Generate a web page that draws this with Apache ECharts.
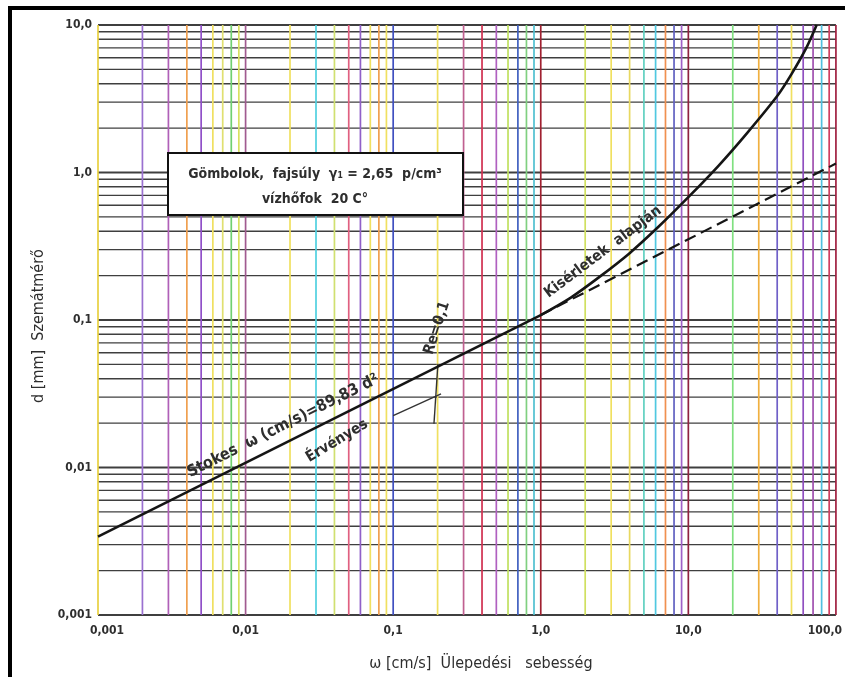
<!DOCTYPE html>
<html>
<head>
<meta charset="utf-8">
<script src="https://cdn.jsdelivr.net/npm/echarts@6/dist/echarts.min.js"></script>
<style>
  html, body { margin: 0; padding: 0; background: #fff; }
  #main { width: 845px; height: 677px; }
</style>
</head>
<body>
<div id="main"></div>
<script>
// tick labels (Hungarian decimal comma)
const xTickLabels = ['0,001', '0,01', '0,1', '1,0', '10,0', '100,0']
const yTickLabels = ['0,001', '0,01', '0,1', '1,0', '10,0']

// log paper grid: 1..9 in every decade
const xDecades = [0.001, 0.01, 0.1, 1, 10]
const yDecades = [0.001, 0.01, 0.1, 1]
const steps = [1, 2, 3, 4, 5, 6, 7, 8, 9]
// colours of the vertical rulings, as they came out of the scan
const vLineColors = [
  '#e8d040', '#9a70d0', '#b060b8', '#f0a050', '#9050c8', '#f0e060', '#e0e070', '#70d070', '#d8e060',
  '#a05a90', '#f0e060', '#50d0e0', '#d0e070', '#e06080', '#9060c8', '#f0e060', '#f0a050', '#f0e060',
  '#4050c0', '#f0e060', '#c06090', '#d03050', '#b060c0', '#c0e060', '#4060c0', '#80d080', '#50c0d0',
  '#a02030', '#d0e060', '#f0e060', '#e8d860', '#60d0c0', '#50c8e0', '#f09050', '#6060c0', '#a060c8',
  '#902040', '#80e080', '#f0b040', '#7060c8', '#f0e060', '#9050c0', '#a050b0', '#50c0e0', '#d04060',
  '#a02040'
]

// Stokes line, omega [cm/s] vs d [mm]
const stokesW = [0.001, 1.0]
const stokesD = [0.0034, 0.108]
// measured curve ("Kisérletek alapján")
const expW = [1.0, 1.6, 2.5, 4.0, 6.3, 10, 16, 25, 40, 50, 63, 74]
const expD = [0.108, 0.142, 0.196, 0.284, 0.43, 0.68, 1.11, 1.85, 3.3, 4.65, 7.0, 10.0]
// Stokes extrapolated (dashed)
const dashW = [1.0, 100]
const dashD = [0.108, 1.15]

const vGrid = []
xDecades.forEach(d => steps.forEach(s => vGrid.push(+(d * s).toPrecision(3))))
vGrid.push(100)
const hGrid = []
yDecades.forEach(d => steps.forEach(s => hGrid.push(+(d * s).toPrecision(3))))
hGrid.push(10)
const yMajor = [0.001, 0.01, 0.1, 1, 10]

const font = "'DejaVu Sans Condensed', 'DejaVu Sans', sans-serif"
const ink = '#2e2e2e'

let myChart = echarts.init(document.getElementById('main'))

let option = {
  backgroundColor: '#fff',
  animation: false,
  grid: { left: 98, right: 8, top: 25, bottom: 59 },
  xAxis: {
    type: 'log',
    logBase: 10,
    min: 0.001,
    max: 100,
    axisLine: { show: false },
    axisTick: { show: false },
    splitLine: { show: false },
    axisLabel: {
      margin: 10,
      color: ink,
      fontFamily: font,
      fontSize: 12,
      fontWeight: 'bold',
      formatter: (v, i) => {
        if (i === 0) return '{first|' + xTickLabels[i] + '}'
        if (i === xTickLabels.length - 1) return '{last|' + xTickLabels[i] + '}'
        return xTickLabels[i]
      },
      rich: {
        first: { padding: [0, 0, 0, 18], color: ink, fontFamily: font, fontSize: 12, fontWeight: 'bold' },
        last: { padding: [0, 22, 0, 0], color: ink, fontFamily: font, fontSize: 12, fontWeight: 'bold' },
      },
    },
    name: 'ω [cm/s]  Ülepedési   sebesség',
    nameLocation: 'middle',
    nameGap: 41,
    nameTextStyle: { color: ink, fontFamily: font, fontSize: 16, padding: [0, 0, 0, 28] },
  },
  yAxis: {
    type: 'log',
    logBase: 10,
    min: 0.001,
    max: 10,
    axisLine: { show: false },
    axisTick: { show: false },
    splitLine: { show: false },
    axisLabel: {
      margin: 6,
      color: ink,
      fontFamily: font,
      fontSize: 12,
      fontWeight: 'bold',
      formatter: (v, i) => yTickLabels[i],
    },
    name: 'd [mm]  Szemátmérő',
    nameLocation: 'middle',
    nameGap: 44,
    nameRotate: 90,
    nameTextStyle: { color: ink, fontFamily: font, fontSize: 16, padding: [0, 12, 0, 0] },
  },
  series: [
    {
      // horizontal rulings
      type: 'custom',
      z: 1,
      silent: true,
      encode: { x: 0, y: 1 },
      data: hGrid.map(v => [1, v]),
      renderItem: (params, api) => {
        const v = api.value(1)
        const a = api.coord([0.001, v])
        const b = api.coord([100, v])
        return {
          type: 'line',
          shape: { x1: a[0], y1: a[1], x2: b[0], y2: b[1] },
          style: {
            stroke: '#2a2a2a',
            lineWidth: yMajor.includes(v) ? 2 : 1.4,
            opacity: 0.9,
          },
        }
      },
    },
    {
      // vertical rulings
      type: 'custom',
      z: 2,
      silent: true,
      encode: { x: 0, y: 1 },
      data: vGrid.map((v, i) => [v, 1, i]),
      renderItem: (params, api) => {
        const v = api.value(0)
        const a = api.coord([v, 10])
        const b = api.coord([v, 0.001])
        return {
          type: 'line',
          shape: { x1: a[0], y1: a[1], x2: b[0], y2: b[1] },
          style: { stroke: vLineColors[api.value(2)], lineWidth: 1.7 },
        }
      },
    },
    {
      name: 'Stokes',
      type: 'line',
      z: 5,
      symbol: 'none',
      lineStyle: { color: '#151515', width: 2.6 },
      data: stokesW.map((w, i) => [w, stokesD[i]]),
      markLine: {
        // Re = 0,1 marker
        symbol: 'none',
        silent: true,
        label: { show: false },
        lineStyle: { color: '#333', width: 1.4, type: 'solid' },
        data: [
          [{ coord: [0.201, 0.0504] }, { coord: [0.189, 0.0198] }],
          [{ coord: [0.1, 0.0225] }, { coord: [0.211, 0.0316] }],
        ],
      },
    },
    {
      name: 'Kísérletek',
      type: 'line',
      z: 5,
      symbol: 'none',
      smooth: 0.3,
      lineStyle: { color: '#151515', width: 2.6 },
      data: expW.map((w, i) => [w, expD[i]]),
    },
    {
      name: 'Stokes extrapolált',
      type: 'line',
      z: 5,
      symbol: 'none',
      lineStyle: { color: '#151515', width: 2.2, type: [12, 6] },
      data: dashW.map((w, i) => [w, dashD[i]]),
    },
  ],
  graphic: [
    // scanned page frame
    {
      type: 'rect',
      z: 100,
      shape: { x: 10, y: 8, width: 850, height: 700 },
      style: { fill: 'none', stroke: '#000', lineWidth: 4 },
    },
    // info box
    {
      type: 'rect',
      z: 50,
      shape: { x: 168, y: 153, width: 295, height: 62 },
      style: { fill: '#fff', stroke: '#111', lineWidth: 2 },
    },
    {
      type: 'text',
      z: 51,
      x: 315,
      y: 174,
      style: {
        text: 'Gömbolok,  fajsúly  γ₁ = 2,65  p/cm³',
        fill: ink,
        font: 'bold 14px ' + font,
        align: 'center',
        verticalAlign: 'middle',
      },
    },
    {
      type: 'text',
      z: 51,
      x: 315,
      y: 199,
      style: {
        text: 'vízhőfok  20 C°',
        fill: ink,
        font: 'bold 14px ' + font,
        align: 'center',
        verticalAlign: 'middle',
      },
    },
    {
      type: 'text',
      z: 60,
      x: 283,
      y: 426,
      rotation: (26.6 * Math.PI) / 180,
      style: {
        text: 'Stokes  ω (cm/s)=89,83 d²',
        fill: ink,
        font: 'bold 16px ' + font,
        align: 'center',
        verticalAlign: 'middle',
      },
    },
    {
      type: 'text',
      z: 60,
      x: 337,
      y: 441,
      rotation: (31 * Math.PI) / 180,
      style: {
        text: 'Érvényes',
        fill: ink,
        font: 'bold 15px ' + font,
        align: 'center',
        verticalAlign: 'middle',
      },
    },
    {
      type: 'text',
      z: 60,
      x: 437,
      y: 328,
      rotation: (72 * Math.PI) / 180,
      style: {
        text: 'Re=0,1',
        fill: ink,
        font: 'bold 15px ' + font,
        align: 'center',
        verticalAlign: 'middle',
      },
    },
    {
      type: 'text',
      z: 60,
      x: 603,
      y: 252,
      rotation: (37 * Math.PI) / 180,
      style: {
        text: 'Kisérletek  alapján',
        fill: ink,
        font: 'bold 15px ' + font,
        align: 'center',
        verticalAlign: 'middle',
      },
    },
  ],
}

myChart.setOption(option)
</script>
</body>
</html>
